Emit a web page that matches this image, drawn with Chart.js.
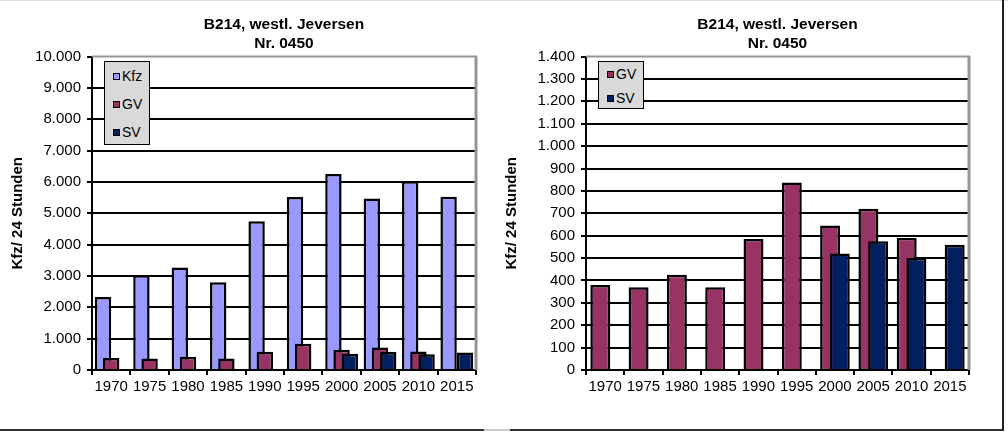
<!DOCTYPE html>
<html lang="de">
<head>
<meta charset="utf-8">
<title>B214, westl. Jeversen</title>
<script src="https://cdn.jsdelivr.net/npm/chart.js@4.4.1/dist/chart.umd.min.js"></script>
<style>
  body { margin: 0; background: #fff; font-family: "Liberation Sans", Arial, sans-serif; }
  #page { position: relative; width: 1008px; height: 438px; overflow: hidden; }
  .box { position: absolute; top: 0; height: 430px; }
  #links { left: 0; width: 490px; }
  #rechts { left: 500px; width: 501px; }
  .linie { position: absolute; }
  .legende { position: absolute; background: #d9d9d9; border: 1.5px solid #000; box-sizing: border-box; }
  .legende div { display: flex; align-items: center; font-size: 14px; color: #000; }
  .legende span.m { display: inline-block; width: 5px; height: 5px; border: 1.5px solid #000; margin-right: 2px; }
</style>
</head>
<body>
<div id="page">
  <div class="linie" style="left:0;top:0;width:1008px;height:1px;background:#dcdcdc"></div>
  <div class="linie" style="left:0;top:429px;width:484px;height:2px;background:#333"></div>
  <div class="linie" style="left:484px;top:429px;width:26px;height:2px;background:#ccc"></div>
  <div class="linie" style="left:510px;top:429px;width:494px;height:2px;background:#333"></div>
  <div class="linie" style="left:1002px;top:0;width:2px;height:431px;background:#222"></div>

  <div class="box" id="links"><canvas id="chartLinks"></canvas></div>
  <div class="box" id="rechts"><canvas id="chartRechts"></canvas></div>
</div>

<script>
const jahre = ['1970', '1975', '1980', '1985', '1990', '1995', '2000', '2005', '2010', '2015'];
const kfz = [2330, 3020, 3270, 2800, 4750, 5520, 6250, 5470, 6020, 5530];
const gv  = [380, 370, 425, 370, 585, 838, 645, 720, 590, null];
const sv  = [null, null, null, null, null, null, 520, 575, 500, 560];

const titel = ['B214, westl. Jeversen', 'Nr. 0450'];
const achsenTitel = 'Kfz/ 24 Stunden';

// y-Achsen: Maximum und Schrittweite
const maxLinks = 10000, schrittLinks = 1000;
const maxRechts = 1400, schrittRechts = 100;

const farben = { Kfz: '#9999ff', GV: '#993366', SV: '#002060' };

Chart.defaults.font.family = "'Liberation Sans', Arial, sans-serif";
Chart.defaults.color = '#000';

// 1000 -> 1.000
function fmt(v) {
  return String(v).replace(/\B(?=(\d{3})+(?!\d))/g, '.');
}

// Rahmen oben/rechts zeichnen, danach Balken in Reihenfolge (spaetere Reihe liegt oben)
const rahmen = {
  id: 'rahmen',
  beforeDatasetsDraw(chart) {
    const ctx = chart.ctx, a = chart.chartArea;
    ctx.save();
    ctx.strokeStyle = '#959595';
    ctx.lineWidth = 2;
    ctx.beginPath(); ctx.moveTo(a.left, a.top); ctx.lineTo(a.right + 1, a.top); ctx.stroke();
    ctx.lineWidth = 3;
    ctx.beginPath(); ctx.moveTo(a.right, a.top); ctx.lineTo(a.right, a.bottom); ctx.stroke();
    ctx.restore();
    chart.getSortedVisibleDatasetMetas().forEach(meta => meta.controller.draw());
    return false;
  }
};

function dataset(label, werte, catPct, barPct) {
  return {
    label: label,
    data: werte,
    backgroundColor: farben[label],
    borderColor: '#000',
    borderWidth: 2.5,
    categoryPercentage: catPct,
    barPercentage: barPct
  };
}

function optionen(max, schritt, yBreite, rechtsPad, titelPad) {
  return {
    responsive: true,
    maintainAspectRatio: false,
    animation: false,
    layout: { padding: { left: 0, right: rechtsPad, top: 0, bottom: 0 } },
    plugins: {
      legend: { display: false },
      tooltip: { enabled: false },
      title: {
        display: true,
        text: titel,
        fullSize: false,
        color: '#000',
        font: { size: 15.5, weight: 'bold', lineHeight: 1.18 },
        padding: { top: 16, bottom: 4 }
      }
    },
    scales: {
      x: {
        grid: { drawOnChartArea: false, color: '#000', lineWidth: 2, tickLength: 5 },
        border: { color: '#000', width: 2 },
        ticks: { font: { size: 15 }, color: '#000', padding: 3, maxRotation: 0 },
        afterFit: s => { s.height = 60; }
      },
      y: {
        min: 0,
        max: max,
        grid: {
          color: c => (c.tick && c.tick.value === max) ? 'transparent' : '#000',
          tickColor: '#000',
          lineWidth: 2,
          tickLength: 5
        },
        border: { color: '#000', width: 2 },
        ticks: { stepSize: schritt, font: { size: 15 }, color: '#000', padding: 6, callback: v => fmt(v) },
        title: {
          display: true,
          text: achsenTitel,
          color: '#000',
          font: { size: 15, weight: 'bold' },
          padding: { top: titelPad, bottom: 0 }
        },
        afterFit: s => { s.width = yBreite; }
      }
    }
  };
}

// HTML-Legende aus den Datensaetzen
function legende(containerId, chart, left, top, breite, zeile) {
  const box = document.createElement('div');
  box.className = 'legende';
  box.style.left = left + 'px';
  box.style.top = top + 'px';
  box.style.width = breite + 'px';
  box.style.height = (zeile * chart.data.datasets.length) + 'px';
  chart.data.datasets.forEach(ds => {
    const row = document.createElement('div');
    row.style.height = zeile + 'px';
    row.style.paddingLeft = '8px';
    row.innerHTML = `<span class="m" style="background:${ds.backgroundColor}"></span>${ds.label}`;
    box.appendChild(row);
  });
  document.getElementById(containerId).appendChild(box);
}

const chartLinks = new Chart(document.getElementById('chartLinks'), {
  type: 'bar',
  data: {
    labels: jahre,
    datasets: [
      dataset('Kfz', kfz, 0.64, 2.0),
      dataset('GV', gv, 0.64, 2.0),
      dataset('SV', sv, 0.64, 2.0)
    ]
  },
  options: optionen(maxLinks, schrittLinks, 92, 14, 9),
  plugins: [rahmen]
});

const chartRechts = new Chart(document.getElementById('chartRechts'), {
  type: 'bar',
  data: {
    labels: jahre,
    datasets: [
      dataset('GV', gv, 0.506, 2.06),
      dataset('SV', sv, 0.506, 2.06)
    ]
  },
  options: optionen(maxRechts, schrittRechts, 86, 32, 3),
  plugins: [rahmen]
});

legende('links', chartLinks, 104, 61, 46, 28);
legende('rechts', chartRechts, 98, 61, 46, 24);
</script>
</body>
</html>
